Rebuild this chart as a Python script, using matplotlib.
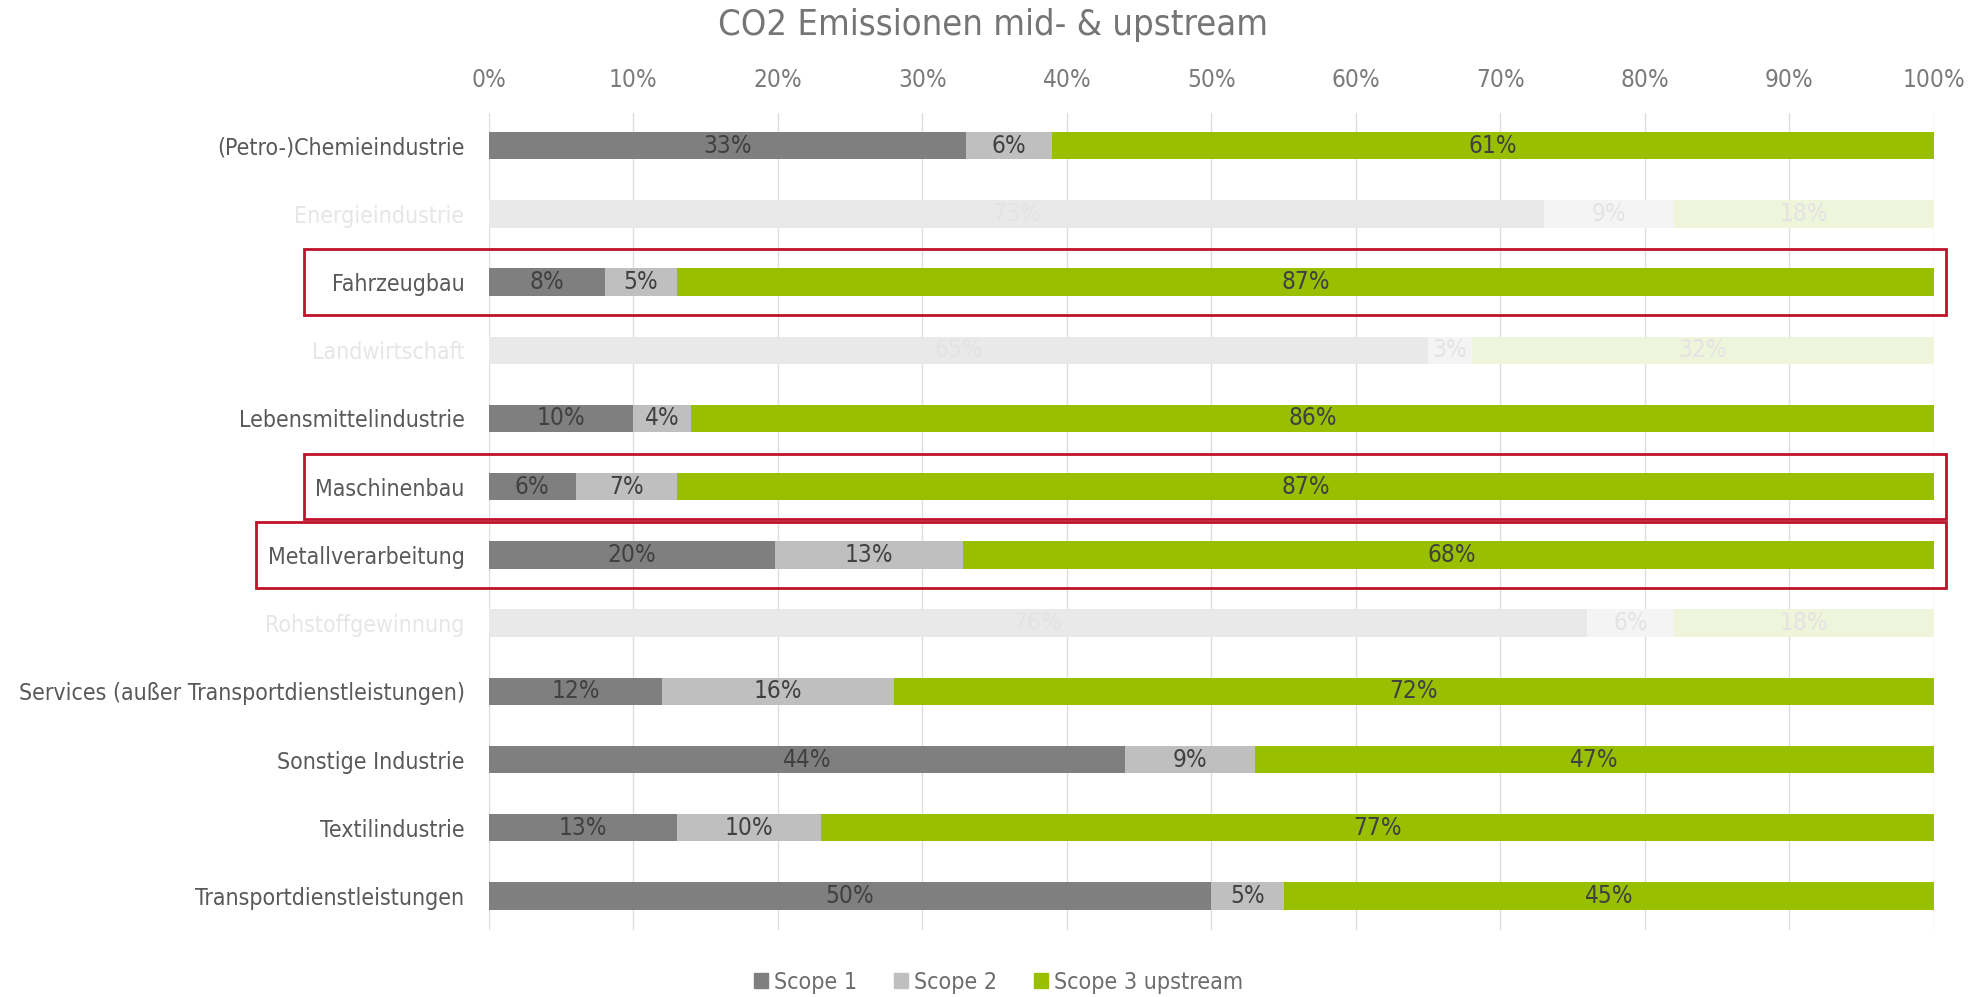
import numpy as np
import matplotlib.pyplot as plt
from matplotlib.patches import Rectangle
from matplotlib.transforms import blended_transform_factory

plt.rcParams['font.family'] = ['DejaVu Sans']
plt.rcParams['font.stretch'] = 'condensed'

# daten
kategorien = ["(Petro-)Chemieindustrie", "Energieindustrie", "Fahrzeugbau",
              "Landwirtschaft", "Lebensmittelindustrie", "Maschinenbau",
              "Metallverarbeitung", "Rohstoffgewinnung",
              "Services (außer Transportdienstleistungen)", "Sonstige Industrie",
              "Textilindustrie", "Transportdienstleistungen"]
scope1 = [33, 73, 8, 65, 10, 6, 19.8, 76, 12, 44, 13, 50]
scope2 = [6, 9, 5, 3, 4, 7, 13.0, 6, 16, 9, 10, 5]
scope3 = [61, 18, 87, 32, 86, 87, 67.6, 18, 72, 47, 77, 45]
ausgeblendet = ["Energieindustrie", "Landwirtschaft", "Rohstoffgewinnung"]
markiert = {"Fahrzeugbau": 0.153, "Maschinenbau": 0.153, "Metallverarbeitung": 0.1288}
serien = ["Scope 1", "Scope 2", "Scope 3 upstream"]

farben = ['#7f7f7f', '#bfbfbf', '#99c000']
farben_blass = ['#e9e9e9', '#f4f4f4', '#eef5da']
txt = '#595959'

fig = plt.figure(figsize=(19.85, 9.97), dpi=100)
ax = fig.add_axes([0.2463, 0.0672, 0.9743 - 0.2463, 0.8867 - 0.0672])

y = np.arange(len(kategorien))
werte = [scope1, scope2, scope3]
links = np.zeros(len(kategorien))
for s, vals in enumerate(werte):
    vals = np.array(vals, dtype=float)
    for i, k in enumerate(kategorien):
        blass = k in ausgeblendet
        fc = farben_blass[s] if blass else farben[s]
        ax.barh(y[i], vals[i], left=links[i], height=0.4, color=fc, zorder=2)
        ax.text(links[i] + vals[i] / 2, y[i], f"{vals[i]:.0f}%", ha='center', va='center',
                fontsize=17.5, color='#e3e3e3' if blass else '#404040', zorder=3)
    links += vals

ax.set_xlim(0, 100)
ax.set_ylim(len(kategorien) - 0.5, -0.48)
ax.set_xticks(np.arange(0, 101, 10))
ax.set_xticklabels([f"{t}%" for t in range(0, 101, 10)])
ax.xaxis.tick_top()
ax.tick_params(axis='x', length=0, pad=15, labelsize=17.5, labelcolor='#7a7a7a')
ax.set_yticks(y)
ax.set_yticklabels(kategorien)
ax.tick_params(axis='y', length=0, pad=17.5, labelsize=16.6)
for lbl in ax.get_yticklabels():
    lbl.set_color('#e6e6e6' if lbl.get_text() in ausgeblendet else txt)
ax.grid(axis='x', color='#dedede', lw=1, zorder=0)
for sp in ax.spines.values():
    sp.set_visible(False)

# rote rahmen
tr = blended_transform_factory(fig.transFigure, ax.transData)
for k, x0 in markiert.items():
    i = kategorien.index(k)
    ax.add_patch(Rectangle((x0, i - 0.48), 0.9805 - x0, 0.96, transform=tr,
                           fill=False, ec='#c0102a', lw=2, clip_on=False, zorder=5))

fig.text(0.5, 0.975, "CO2 Emissionen mid- & upstream", ha='center', va='center',
         fontsize=26, color='#757575')

handles = [Rectangle((0, 0), 1, 1, color=c) for c in farben]
fig.legend(handles, serien, loc='center', bbox_to_anchor=(0.503, 0.015), ncol=3,
           frameon=False, fontsize=16.7, labelcolor='#6d6d6d', handlelength=0.6,
           handleheight=0.6, handletextpad=0.25, columnspacing=1.6)

fig.savefig("out.png", dpi=100)
